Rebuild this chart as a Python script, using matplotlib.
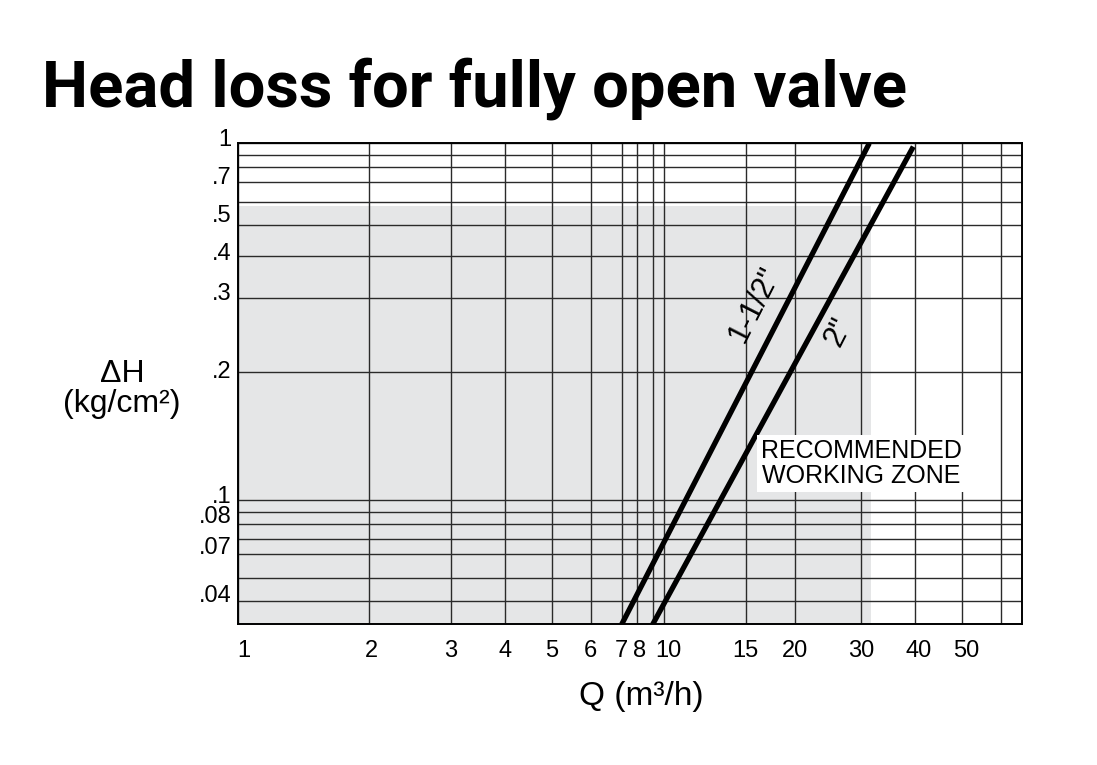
import numpy as np
import matplotlib
matplotlib.use("Agg")
import matplotlib.pyplot as plt
import matplotlib.transforms as mtransforms
from matplotlib.ticker import FixedLocator, FixedFormatter

# curves: flow Q (m3/h) vs head loss dH (kg/cm2), end points
q_15 = [7.0, 31.4]
dh_15 = [0.03, 1.0]
q_20 = [9.0, 39.7]
dh_20 = [0.03, 0.97]

# recommended working zone
zone_q_max = 31.7
zone_dh_max = 0.58

# printed grid values and tick labels
x_grid = [1, 2, 3, 4, 5, 6, 7, 8, 9, 10, 15, 20, 30, 40, 50, 60, 70]
x_labels = ["1", "2", "3", "4", "5", "6", "7", "8", "", "10", "15", "20",
            "30", "40", "50", "", ""]
y_grid = [0.03, 0.04, 0.05, 0.06, 0.07, 0.08, 0.09, 0.1, 0.2, 0.3, 0.4,
          0.5, 0.6, 0.7, 0.8, 0.9, 1.0]
y_labels = ["", ".04", "", "", ".07", ".08", "", ".1", ".2", ".3", ".4",
            ".5", "", ".7", "", "", "1"]

# the printed chart grid is not a true log grid: fraction of axis length
# at which each grid value sits (measured from the sheet)
x_grid_frac = [0.0, 0.1672, 0.2711, 0.3404, 0.4004, 0.4498, 0.4894, 0.5093,
               0.5290, 0.5438, 0.6477, 0.7106, 0.7945, 0.8634, 0.9234,
               0.9732, 1.0]
y_grid_frac = [0.0, 0.0485, 0.0969, 0.1455, 0.1773, 0.2092, 0.2335, 0.2578,
               0.5239, 0.6778, 0.7663, 0.8302, 0.8786, 0.9189, 0.9513,
               0.9757, 1.0]

# the sheet prints some labels a little off their lines (points)
y_label_shift = {"1": 4, ".7": 5, ".5": 8, ".4": 3, ".3": 5, ".2": 2,
                 ".1": 4, ".08": 6.5, ".07": -5, ".04": 5.5}
x_label_shift = {"1": 4, "2": 1.5, "8": 1.5, "10": 3, "40": 2.5, "50": 3}


def make_scale(vals, fracs):
    lv = np.log10(vals)

    def fwd(v):
        v = np.clip(np.asarray(v, dtype=float), 1e-6, None)
        return np.interp(np.log10(v), lv, fracs)

    def inv(f):
        return 10 ** np.interp(f, fracs, lv)

    return fwd, inv


plt.rcParams['font.family'] = ['Liberation Sans', 'DejaVu Sans']

fig = plt.figure(figsize=(10.97, 7.65), dpi=100)
ax = fig.add_axes([0.2172, 0.1839, 0.7142, 0.6288])

ax.set_xscale('function', functions=make_scale(x_grid, x_grid_frac))
ax.set_yscale('function', functions=make_scale(y_grid, y_grid_frac))
ax.set_xlim(x_grid[0], x_grid[-1])
ax.set_ylim(y_grid[0], y_grid[-1])

ax.fill_between([x_grid[0], zone_q_max], y_grid[0], zone_dh_max,
                color='#e5e6e7', lw=0, zorder=0)

ax.xaxis.set_major_locator(FixedLocator(x_grid))
ax.xaxis.set_major_formatter(FixedFormatter(x_labels))
ax.yaxis.set_major_locator(FixedLocator(y_grid))
ax.yaxis.set_major_formatter(FixedFormatter(y_labels))
ax.minorticks_off()
ax.tick_params(axis='both', length=0, labelsize=17)
ax.tick_params(axis='x', pad=11)
ax.tick_params(axis='y', pad=5)
ax.grid(True, color='#2a2a2a', lw=1.0)
ax.set_axisbelow(True)
for sp in ax.spines.values():
    sp.set_color('black')
    sp.set_linewidth(1.4)

fig.canvas.draw()
for lab in ax.get_yticklabels():
    dy = y_label_shift.get(lab.get_text(), 0)
    lab.set_transform(lab.get_transform() +
                      mtransforms.ScaledTranslation(0, dy / 72, fig.dpi_scale_trans))
for lab in ax.get_xticklabels():
    dx = x_label_shift.get(lab.get_text(), 0)
    lab.set_transform(lab.get_transform() +
                      mtransforms.ScaledTranslation(dx / 72, 0, fig.dpi_scale_trans))

ax.plot(q_15, dh_15, color='black', lw=3.8, solid_capstyle='butt', zorder=3)
ax.plot(q_20, dh_20, color='black', lw=3.8, solid_capstyle='butt', zorder=3)

ax.text(15.8, 0.29, '1-1/2"', rotation=63, rotation_mode='anchor',
        ha='center', va='center', fontsize=22, zorder=4)
ax.text(26.2, 0.25, '2"', rotation=63, rotation_mode='anchor',
        ha='center', va='center', fontsize=22, zorder=4)

ax.text(30.1, 0.122, 'RECOMMENDED\nWORKING ZONE', ha='center', va='center',
        fontsize=18, linespacing=1.05,
        bbox=dict(facecolor='white', edgecolor='none', pad=3), zorder=4)

fig.text(0.1112, 0.4915, '\u0394H\n(kg/cm\u00b2)', ha='center', va='center',
         fontsize=23, linespacing=1.0)
fig.text(0.5843, 0.0895, 'Q (m\u00b3/h)', ha='center', va='center',
         fontsize=24)

fig.text(42 / 1097, 1 - 106 / 765, 'Head loss for fully open valve',
         ha='left', va='baseline', fontsize=47, fontweight='bold',
         family=['Roboto', 'DejaVu Sans'])

fig.savefig('out.png', dpi=100)
